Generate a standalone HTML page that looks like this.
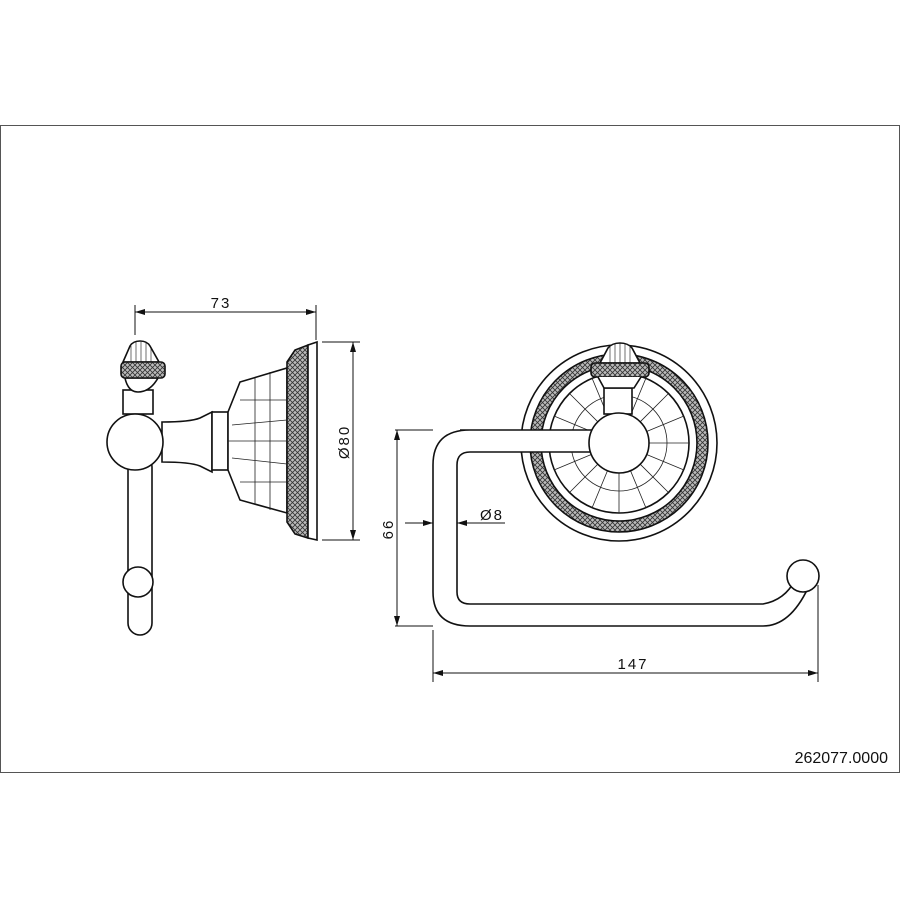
<!DOCTYPE html>
<html><head><style>
body{margin:0;background:#fff}
svg{display:block}
text{font-family:"Liberation Sans",sans-serif;fill:#111}
.d{letter-spacing:2px}
</style></head><body>
<svg width="900" height="900" viewBox="0 0 900 900" xmlns="http://www.w3.org/2000/svg">
<defs>
<marker id="a" viewBox="0 0 10 6" refX="10" refY="3" markerWidth="10" markerHeight="6" orient="auto-start-reverse" markerUnits="userSpaceOnUse"><path d="M0,0L10,3L0,6z" fill="#111"/></marker>
<pattern id="h" width="5" height="5" patternUnits="userSpaceOnUse"><rect width="5" height="5" fill="#bbb"/><path d="M0,5L5,0M0,0L5,5" stroke="#333" stroke-width="0.8"/></pattern>
</defs>
<rect x="0.5" y="125.5" width="899" height="647" fill="none" stroke="#555" stroke-width="1"/>
<g fill="#fff" stroke="#111" stroke-width="1.6">
<!-- left view -->
<rect x="128" y="455" width="24" height="180" rx="12"/>
<circle cx="138" cy="582" r="15"/>
<path d="M162,422 Q190,422 200,418 L212,412 L212,472 L200,466 Q190,462 162,462z"/>
<rect x="212" y="412" width="16" height="58"/>
<path d="M228,412 L240,382 L287,368 L287,513 L240,500 L228,470z"/>
<path d="M287,362 L295,350 L308,345 L308,538 L295,534 L287,522z" fill="url(#h)"/>
<path d="M308,345 L317,342 L317,540 L308,538z"/>
<rect x="123" y="390" width="30" height="24"/>
<circle cx="135" cy="442" r="28"/>
<path d="M125,378 Q128,392 138,392 Q150,392 158,378z"/>
<path d="M123,362 L130,346 Q133,341 140,341 Q147,341 150,346 L159,362z"/>
<path d="M131,346V362M136,342V362M141,342V362M146,343V362M151,348V362" stroke-width="0.6"/>
<rect x="121" y="362" width="44" height="16" rx="4" fill="url(#h)"/>
<!-- right view -->
<circle cx="619" cy="443" r="98"/>
<circle cx="619" cy="443" r="89" fill="url(#h)"/>
<circle cx="619" cy="443" r="78"/>
<circle cx="619" cy="443" r="70"/>
</g>
<g stroke="#222" stroke-width="0.8" fill="none">
<path d="M228,441H287M240,400H287M240,482H287M232,425L287,420M232,458L287,464M255,378V505M270,372V510"/>
<g transform="translate(619,443)">
<path d="M0,-70V70M-70,0H70M-49,-49L49,49M49,-49L-49,49M-27,-65L27,65M27,-65L-27,65M-65,-27L65,27M65,-27L-65,27"/>
<circle r="48"/>
</g>
</g>
<g fill="#fff" stroke="#111" stroke-width="1.6">
<path d="M460,430 H600 V452 H470 Q457,452 457,465 V592 Q457,604 470,604 H763 Q785,600 795,580 L808,588 Q790,626 763,626 H470 Q433,626 433,592 V465 Q433,430 470,430z"/>
<circle cx="803" cy="576" r="16"/>
<rect x="604" y="388" width="28" height="26"/>
<circle cx="619" cy="443" r="30"/>
<path d="M600,363 L608,348 Q612,343 620,343 Q628,343 632,348 L640,363z"/>
<path d="M610,347V363M615,344V363M620,343V363M625,344V363M630,347V363" stroke-width="0.6"/>
<rect x="591" y="363" width="58" height="14" rx="4" fill="url(#h)"/>
<path d="M598,377 L604,388 H634 L641,377"/>
</g>
<!-- dimensions -->
<g stroke="#111" stroke-width="1" fill="none">
<path d="M135,335V305M316,340V305M322,342H360M322,540H360M395,430H433M395,626H433M433,630V682M818,585V682"/>
<path d="M135,312H316" marker-start="url(#a)" marker-end="url(#a)"/>
<path d="M353,342V540" marker-start="url(#a)" marker-end="url(#a)"/>
<path d="M397,430V626" marker-start="url(#a)" marker-end="url(#a)"/>
<path d="M433,673H818" marker-start="url(#a)" marker-end="url(#a)"/>
<path d="M405,523H433" marker-end="url(#a)"/>
<path d="M505,523H457" marker-end="url(#a)"/>
</g>
<text class="d" x="221" y="308" font-size="15" text-anchor="middle">73</text>
<text class="d" transform="translate(349,442) rotate(-90)" font-size="15" text-anchor="middle">Ø80</text>
<text class="d" transform="translate(393,529) rotate(-90)" font-size="15" text-anchor="middle">66</text>
<text class="d" x="492" y="520" font-size="15" text-anchor="middle">Ø8</text>
<text class="d" x="633" y="669" font-size="15" text-anchor="middle">147</text>
<text x="888" y="763" font-size="16" text-anchor="end">262077.0000</text>
</svg>
</body></html>
